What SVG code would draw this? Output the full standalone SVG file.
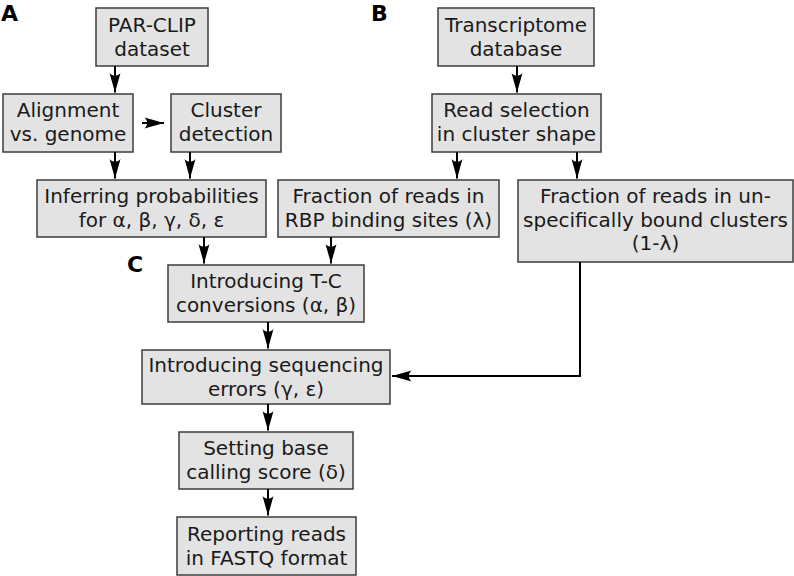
<svg xmlns="http://www.w3.org/2000/svg" width="794" height="576" viewBox="0 0 794 576">
<defs>
<style>
.box{fill:#e3e3e3;stroke:#3c3c3c;stroke-width:1.5}
.t{font-family:"DejaVu Sans","Verdana",sans-serif;font-size:20px;fill:#1a1a1a;text-anchor:middle}
.lbl{font-family:"DejaVu Sans","Verdana",sans-serif;font-size:22px;font-weight:bold;fill:#000}
.c{fill:none;stroke:#000;stroke-width:2}
</style>
<marker id="ah" markerUnits="userSpaceOnUse" markerWidth="22" markerHeight="13" refX="20" refY="6.5" orient="auto">
<path d="M20,6.5 L0.5,1 C4,4 4,9 0.5,12 Z" fill="#000"/>
</marker>
</defs>
<rect width="794" height="576" fill="#fff"/>
<text class="lbl" x="1" y="21">A</text>
<text class="lbl" x="371" y="21">B</text>
<text class="lbl" x="127" y="272">C</text>
<g id="n1"><rect class="box" x="96" y="8" width="112" height="58"/><text class="t" x="152" y="32">PAR-CLIP</text><text class="t" x="152" y="56">dataset</text></g>
<g id="n2"><rect class="box" x="3" y="94" width="130" height="58"/><text class="t" x="68" y="117">Alignment</text><text class="t" x="68" y="141">vs. genome</text></g>
<g id="n3"><rect class="box" x="171" y="94" width="110" height="58"/><text class="t" x="226" y="117">Cluster</text><text class="t" x="226" y="141">detection</text></g>
<g id="n4"><rect class="box" x="37" y="180" width="229" height="57"/><text class="t" x="151.5" y="203">Inferring probabilities</text><text class="t" x="151.5" y="227">for α, β, γ, δ, ε</text></g>
<g id="n5"><rect class="box" x="438" y="8" width="156" height="58"/><text class="t" x="516" y="32">Transcriptome</text><text class="t" x="516" y="56">database</text></g>
<g id="n6"><rect class="box" x="432" y="94" width="169" height="58"/><text class="t" x="516.5" y="117">Read selection</text><text class="t" x="516.5" y="141">in cluster shape</text></g>
<g id="n7"><rect class="box" x="278" y="180" width="221" height="57"/><text class="t" x="388.5" y="203">Fraction of reads in</text><text class="t" x="388.5" y="227">RBP binding sites (λ)</text></g>
<g id="n8"><rect class="box" x="518" y="180" width="275" height="82"/><text class="t" x="655.5" y="203">Fraction of reads in un-</text><text class="t" x="655.5" y="227">specifically bound clusters</text><text class="t" x="655.5" y="250">(1-λ)</text></g>
<g id="n9"><rect class="box" x="168" y="265" width="196" height="57"/><text class="t" x="266" y="288">Introducing T-C</text><text class="t" x="266" y="312">conversions (α, β)</text></g>
<g id="n10"><rect class="box" x="142" y="350" width="248" height="54"/><text class="t" x="266" y="372">Introducing sequencing</text><text class="t" x="266" y="396">errors (γ, ε)</text></g>
<g id="n11"><rect class="box" x="179" y="432" width="174" height="57"/><text class="t" x="266" y="455">Setting base</text><text class="t" x="266" y="479">calling score (δ)</text></g>
<g id="n12"><rect class="box" x="177" y="517" width="179" height="58"/><text class="t" x="266.5" y="541">Reporting reads</text><text class="t" x="266.5" y="565">in FASTQ format</text></g>
<g id="connectors">
<path class="c" marker-end="url(#ah)" d="M115,66 V92.5"/>
<path class="c" marker-end="url(#ah)" d="M142,123 H164"/>
<path class="c" marker-end="url(#ah)" d="M115,152 V178.5"/>
<path class="c" marker-end="url(#ah)" d="M190,152 V178.5"/>
<path class="c" marker-end="url(#ah)" d="M517,66 V92.5"/>
<path class="c" marker-end="url(#ah)" d="M457,152 V178.5"/>
<path class="c" marker-end="url(#ah)" d="M577,152 V178.5"/>
<path class="c" marker-end="url(#ah)" d="M204,237 V263.5"/>
<path class="c" marker-end="url(#ah)" d="M331,237 V263.5"/>
<path class="c" marker-end="url(#ah)" d="M268,322 V348.5"/>
<path class="c" marker-end="url(#ah)" d="M268,404 V430.5"/>
<path class="c" marker-end="url(#ah)" d="M268,489 V515.5"/>
<path class="c" marker-end="url(#ah)" d="M580,262 V376 H392"/>
</g>
</svg>
